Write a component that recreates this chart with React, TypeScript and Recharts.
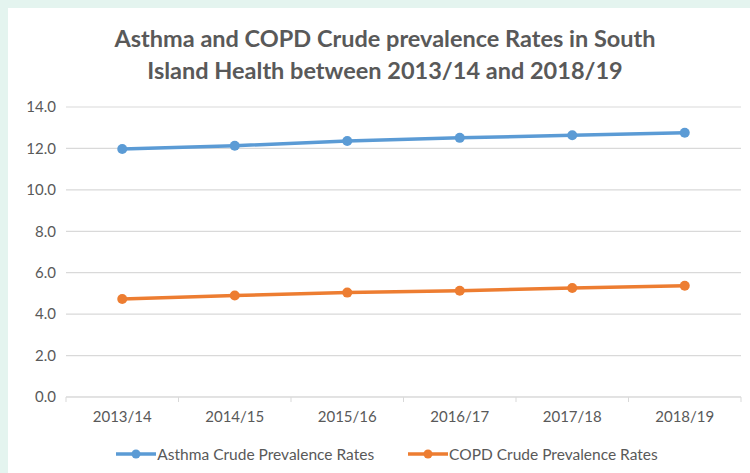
import React from "react"
import { LineChart, Line, XAxis, YAxis, CartesianGrid, Legend } from "recharts"

const years = ["2013/14", "2014/15", "2015/16", "2016/17", "2017/18", "2018/19"]
const asthma = [11.97, 12.13, 12.36, 12.51, 12.64, 12.76]
const copd = [4.73, 4.9, 5.04, 5.13, 5.26, 5.37]
const yTicks = [0, 2, 4, 6, 8, 10, 12, 14]

const data = years.map((year, i) => ({ year, asthma: asthma[i], copd: copd[i] }))

const FONT = "Lato, 'Open Sans', sans-serif"
const TEXT = "#595959"
const GRID = "#d9d9d9"
const BLUE = "#5b9bd5"
const ORANGE = "#ed7d31"

const XTick = (props: any) => {
    const { x, y, payload, index } = props
    const half = payload?.offset ?? 56.25
    const axisY = y - 8
    return (
        <g>
            <line x1={x - half} x2={x - half} y1={axisY} y2={axisY + 5} stroke={GRID} />
            {index === years.length - 1 && (
                <line x1={x + half} x2={x + half} y1={axisY} y2={axisY + 5} stroke={GRID} />
            )}
            <text x={x} y={y + 12} dy="0.355em" textAnchor="middle" fill={TEXT} fontSize={15} fontFamily={FONT}>
                {payload.value}
            </text>
        </g>
    )
}

const legendItems = [
    { label: "Asthma Crude Prevalence Rates", color: BLUE },
    { label: "COPD Crude Prevalence Rates", color: ORANGE }
]

const LegendContent = () => (
    <div style={{ display: "flex", justifyContent: "center", gap: 34, fontFamily: FONT, fontSize: 15.5, color: TEXT, paddingLeft: 16 }}>
        {legendItems.map((item) => (
            <div key={item.label} style={{ display: "flex", alignItems: "center" }}>
                <svg width={40} height={12} style={{ marginRight: 1 }}>
                    <line x1={0} x2={40} y1={6} y2={6} stroke={item.color} strokeWidth={3.5} />
                    <circle cx={20} cy={6} r={4.5} fill={item.color} />
                </svg>
                <span>{item.label}</span>
            </div>
        ))}
    </div>
)

export default function App() {
    return (
        <div style={{ position: "absolute", left: 0, top: 0, width: 750, height: 473, background: "#e4f4ef", overflow: "hidden" }}>
            <div style={{ position: "absolute", left: 8, top: 8, width: 742, height: 465, background: "#fff" }}>
                <div
                    style={{
                        position: "absolute",
                        top: 14,
                        left: 12,
                        width: 730,
                        textAlign: "center",
                        fontFamily: FONT,
                        fontWeight: 700,
                        fontSize: 23.5,
                        lineHeight: "32px",
                        color: TEXT
                    }}
                >
                    Asthma and COPD Crude prevalence Rates in South
                    <br />
                    Island Health between 2013/14 and 2018/19
                </div>
                <LineChart width={742} height={465} data={data} margin={{ top: 99, right: 9, bottom: 8, left: 0 }}>
                    <CartesianGrid vertical={false} stroke={GRID} strokeWidth={1.2} />
                    <XAxis
                        dataKey="year"
                        scale="band"
                        axisLine={{ stroke: GRID }}
                        tickLine={false}
                        tick={<XTick />}
                        interval={0}
                        height={68}
                    />
                    <YAxis
                        domain={[0, 14]}
                        ticks={yTicks}
                        width={58}
                        axisLine={false}
                        tickLine={false}
                        tickMargin={4}
                        tickFormatter={(v: number) => v.toFixed(1)}
                        tick={{ fill: TEXT, fontSize: 15, fontFamily: FONT }}
                    />
                    <Legend
                        verticalAlign="middle"
                        align="center"
                        layout="horizontal"
                        wrapperStyle={{ top: 437, left: 0, width: 742 }}
                        content={<LegendContent />}
                    />
                    <Line
                        dataKey="asthma"
                        stroke={BLUE}
                        strokeWidth={3.5}
                        dot={{ r: 5, fill: BLUE, stroke: BLUE, strokeWidth: 0 }}
                        activeDot={false}
                        isAnimationActive={false}
                    />
                    <Line
                        dataKey="copd"
                        stroke={ORANGE}
                        strokeWidth={3.5}
                        dot={{ r: 5, fill: ORANGE, stroke: ORANGE, strokeWidth: 0 }}
                        activeDot={false}
                        isAnimationActive={false}
                    />
                </LineChart>
            </div>
        </div>
    )
}
